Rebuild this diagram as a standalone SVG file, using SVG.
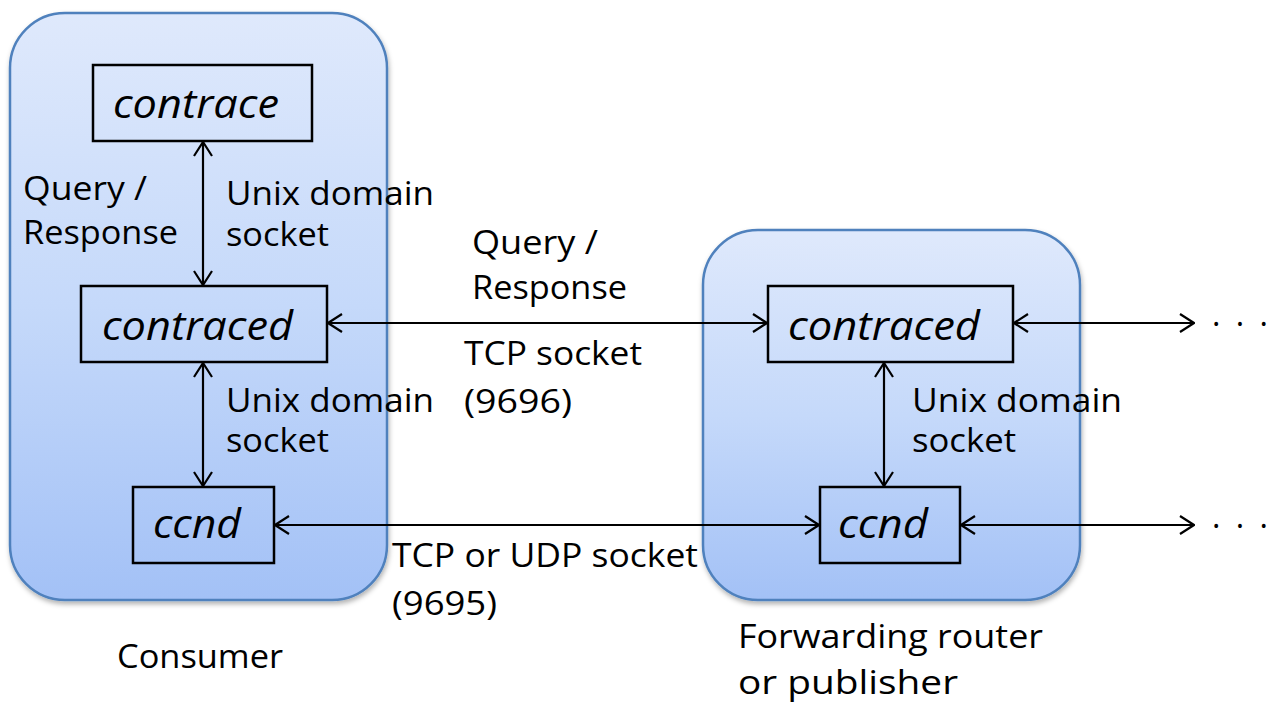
<svg xmlns="http://www.w3.org/2000/svg" width="1277" height="704" viewBox="0 0 1277 704">
<defs>
<linearGradient id="g" x1="0" y1="0" x2="0" y2="1">
<stop offset="0" stop-color="#dfe9fc"/>
<stop offset="0.5" stop-color="#c5d9fa"/>
<stop offset="1" stop-color="#a3c1f6"/>
</linearGradient>
<filter id="sh" x="-10%" y="-10%" width="120%" height="120%">
<feDropShadow dx="1" dy="3" stdDeviation="2.5" flood-color="#000" flood-opacity="0.3"/>
</filter>
<marker id="ah" viewBox="0 0 16 20" refX="15" refY="10" markerWidth="16" markerHeight="20" markerUnits="userSpaceOnUse" orient="auto-start-reverse">
<path d="M1,1 L15,10 L1,19" fill="none" stroke="#000" stroke-width="2.2"/>
</marker>
<style>
.cont{fill:url(#g);stroke:#4f81bd;stroke-width:2.5;filter:url(#sh)}
.box{fill:none;stroke:#000;stroke-width:2.5}
.nt{font-family:"Open Sans",sans-serif;font-style:italic;font-size:41px;fill:#000}
.lb{font-family:"Open Sans",sans-serif;font-size:32px;fill:#000}
.dt{font-family:"Open Sans",sans-serif;font-size:36px;font-weight:bold;fill:#000}
.cn{stroke:#000;stroke-width:2.2;fill:none;marker-start:url(#ah);marker-end:url(#ah)}
</style>
</defs>
<rect width="1277" height="704" fill="#fff"/>
<g id="consumer">
<rect class="cont" x="10" y="13" width="377" height="587" rx="55" ry="55"/>
</g>
<g id="router">
<rect class="cont" x="703" y="230" width="377" height="370" rx="55" ry="55"/>
</g>
<g id="connectors">
<line class="cn" x1="203" y1="142" x2="203" y2="285"/>
<line class="cn" x1="203" y1="363" x2="203" y2="486"/>
<line class="cn" x1="328" y1="323" x2="767" y2="323"/>
<line class="cn" x1="275" y1="525" x2="819" y2="525"/>
<line class="cn" x1="884" y1="363" x2="884" y2="486"/>
<line class="cn" x1="1014" y1="323" x2="1194" y2="323"/>
<line class="cn" x1="961" y1="525" x2="1194" y2="525"/>
</g>
<g id="contrace">
<rect class="box" x="93" y="65" width="219" height="76"/>
<text class="nt" x="113" y="118" textLength="166" lengthAdjust="spacingAndGlyphs">contrace</text>
</g>
<g id="contraced-consumer">
<rect class="box" x="81" y="286" width="246" height="76"/>
<text class="nt" x="102" y="340" textLength="191" lengthAdjust="spacingAndGlyphs">contraced</text>
</g>
<g id="ccnd-consumer">
<rect class="box" x="133" y="487" width="141" height="76"/>
<text class="nt" x="153" y="538" textLength="88" lengthAdjust="spacingAndGlyphs">ccnd</text>
</g>
<g id="contraced-router">
<rect class="box" x="768" y="286" width="245" height="76"/>
<text class="nt" x="788" y="340" textLength="192" lengthAdjust="spacingAndGlyphs">contraced</text>
</g>
<g id="ccnd-router">
<rect class="box" x="820" y="487" width="140" height="76"/>
<text class="nt" x="838" y="538" textLength="90" lengthAdjust="spacingAndGlyphs">ccnd</text>
</g>
<g id="labels">
<text class="lb" x="23" y="200" textLength="124" lengthAdjust="spacingAndGlyphs">Query /</text>
<text class="lb" x="23" y="244" textLength="155" lengthAdjust="spacingAndGlyphs">Response</text>
<text class="lb" x="226" y="205" textLength="208" lengthAdjust="spacingAndGlyphs">Unix domain</text>
<text class="lb" x="226" y="246" textLength="103" lengthAdjust="spacingAndGlyphs">socket</text>
<text class="lb" x="226" y="412" textLength="208" lengthAdjust="spacingAndGlyphs">Unix domain</text>
<text class="lb" x="226" y="452" textLength="103" lengthAdjust="spacingAndGlyphs">socket</text>
<text class="lb" x="472" y="254" textLength="126" lengthAdjust="spacingAndGlyphs">Query /</text>
<text class="lb" x="472" y="299" textLength="155" lengthAdjust="spacingAndGlyphs">Response</text>
<text class="lb" x="464" y="365" textLength="178" lengthAdjust="spacingAndGlyphs">TCP socket</text>
<text class="lb" x="464" y="413" textLength="108" lengthAdjust="spacingAndGlyphs">(9696)</text>
<text class="lb" x="912" y="412" textLength="210" lengthAdjust="spacingAndGlyphs">Unix domain</text>
<text class="lb" x="912" y="452" textLength="104" lengthAdjust="spacingAndGlyphs">socket</text>
<text class="lb" x="392" y="567" textLength="306" lengthAdjust="spacingAndGlyphs">TCP or UDP socket</text>
<text class="lb" x="392" y="615" textLength="105" lengthAdjust="spacingAndGlyphs">(9695)</text>
<text class="lb" x="117" y="668" textLength="166" lengthAdjust="spacingAndGlyphs">Consumer</text>
<text class="lb" x="738" y="648" textLength="305" lengthAdjust="spacingAndGlyphs">Forwarding router</text>
<text class="lb" x="738" y="694" textLength="220" lengthAdjust="spacingAndGlyphs">or publisher</text>
<text class="lb" x="1212" y="335" textLength="56" lengthAdjust="spacing">· · ·</text>
<text class="lb" x="1212" y="537" textLength="56" lengthAdjust="spacing">· · ·</text>
</g>
</svg>
